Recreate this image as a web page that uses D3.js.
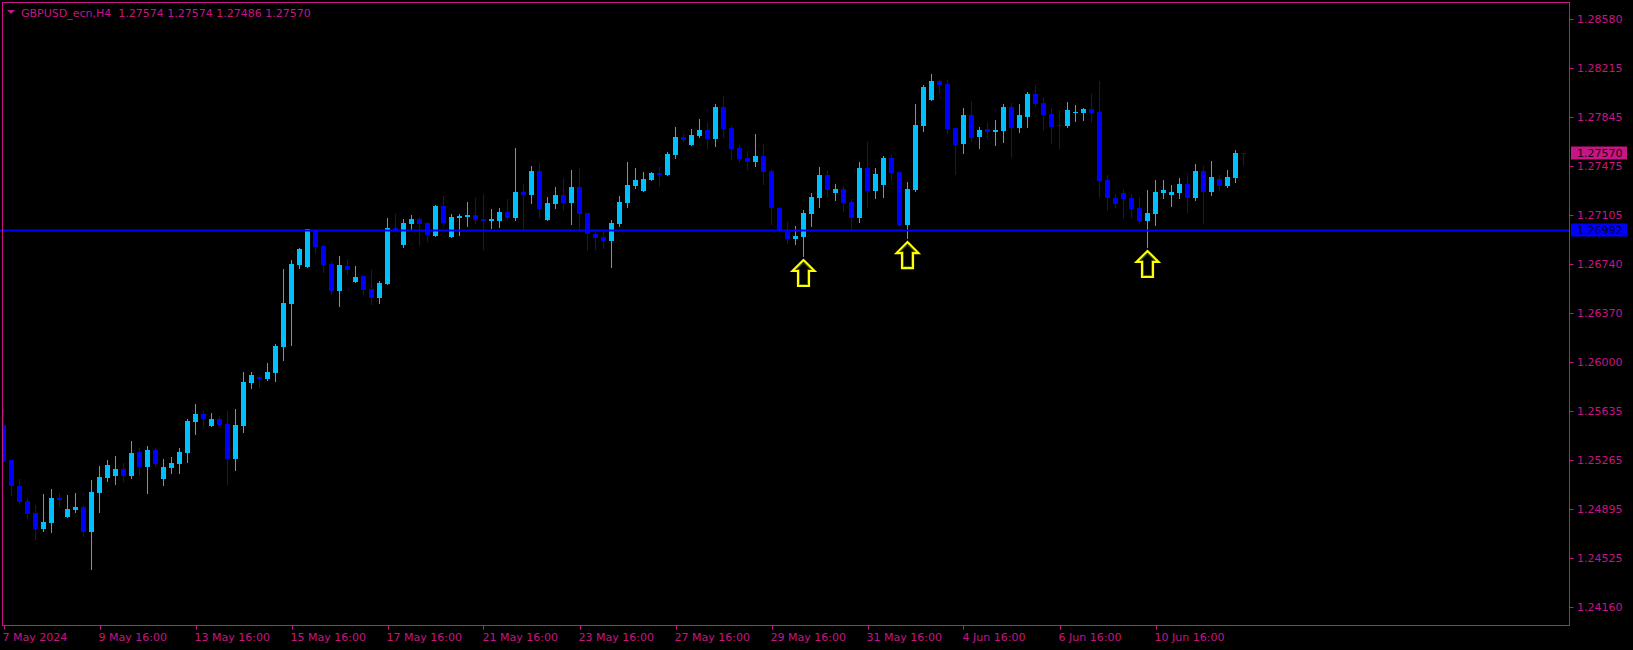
<!DOCTYPE html>
<html><head><meta charset="utf-8">
<script src="https://cdn.jsdelivr.net/npm/d3@7"></script>
<style>html,body{margin:0;padding:0;background:#000;overflow:hidden}svg{display:block}</style>
</head><body>
<svg id="c" width="1633" height="650"></svg>
<script>
const titleText = "GBPUSD_ecn,H4  1.27574 1.27574 1.27486 1.27570";
const openP = [1.25528,1.25265,1.25069,1.24956,1.24866,1.24746,1.24791,1.24979,1.24836,1.24889,1.24911,1.24723,1.25016,1.25129,1.25145,1.25198,1.25145,1.25325,1.25213,1.25340,
1.25122,1.25205,1.25235,1.25317,1.25551,1.25611,1.25521,1.25573,1.25536,1.25272,1.25521,1.25843,1.25889,1.25874,1.25919,1.26114,1.26438,1.26731,1.26716,1.26994,
1.26874,1.26739,1.26535,1.26724,1.26603,1.26648,1.26551,1.26483,1.26588,1.27009,1.26882,1.27040,1.27077,1.27047,1.26949,1.27175,1.26942,1.27085,1.27092,1.27107,
1.27077,1.27062,1.27062,1.27130,1.27085,1.27280,1.27257,1.27438,1.27070,1.27190,1.27257,1.27197,1.27318,1.27122,1.26964,1.26942,1.26912,1.27040,1.27197,1.27325,
1.27287,1.27370,1.27423,1.27408,1.27558,1.27694,1.27634,1.27701,1.27746,1.27679,1.27919,1.27761,1.27611,1.27536,1.27506,1.27551,1.27438,1.27160,1.26979,1.26927,
1.26942,1.27115,1.27235,1.27408,1.27272,1.27302,1.27205,1.27085,1.27461,1.27287,1.27333,1.27536,1.27431,1.27032,1.27295,1.27776,1.27972,1.28115,1.28092,1.27761,
1.27641,1.27859,1.27694,1.27754,1.27731,1.27739,1.27919,1.27761,1.27844,1.28017,1.27949,1.27867,1.27784,1.27776,1.27874,1.27874,1.27904,1.27882,1.27370,1.27235,
1.27272,1.27235,1.27160,1.27062,1.27115,1.27272,1.27257,1.27272,1.27340,1.27235,1.27438,1.27280,1.27378,1.27325,1.27385,1.27574];
const highP = [1.25648,1.25268,1.25122,1.24971,1.24926,1.25009,1.25046,1.25016,1.25001,1.25016,1.24926,1.25114,1.25220,1.25265,1.25295,1.25242,1.25407,1.25355,1.25370,1.25355,
1.25272,1.25287,1.25355,1.25573,1.25686,1.25633,1.25618,1.25596,1.25633,1.25648,1.25927,1.25927,1.25904,1.25994,1.26137,1.26701,1.26769,1.26859,1.27005,1.27002,
1.26882,1.26754,1.26799,1.26769,1.26724,1.26651,1.26694,1.26611,1.27085,1.27115,1.27077,1.27107,1.27092,1.27055,1.27183,1.27250,1.27115,1.27115,1.27205,1.27235,
1.27265,1.27152,1.27160,1.27227,1.27611,1.27340,1.27476,1.27498,1.27242,1.27318,1.27385,1.27446,1.27461,1.27125,1.26994,1.26979,1.27070,1.27250,1.27506,1.27461,
1.27431,1.27431,1.27468,1.27581,1.27769,1.27716,1.27754,1.27829,1.27807,1.27942,1.28002,1.27776,1.27634,1.27589,1.27716,1.27641,1.27453,1.27167,1.27055,1.27024,
1.27145,1.27272,1.27468,1.27438,1.27340,1.27318,1.27227,1.27506,1.27656,1.27461,1.27551,1.27558,1.27434,1.27355,1.27942,1.28085,1.28168,1.28122,1.28122,1.27764,
1.27912,1.27964,1.27769,1.27807,1.27822,1.27942,1.27949,1.27942,1.28032,1.28085,1.27994,1.27912,1.27889,1.27957,1.27934,1.27912,1.28017,1.28115,1.27408,1.27265,
1.27302,1.27265,1.27242,1.27295,1.27370,1.27370,1.27333,1.27385,1.27400,1.27491,1.27476,1.27513,1.27408,1.27446,1.27596,1.27574];
const lowP = [1.25250,1.25001,1.24941,1.24829,1.24670,1.24730,1.24723,1.24919,1.24833,1.24874,1.24693,1.24445,1.24874,1.25106,1.25084,1.25106,1.25129,1.25152,1.25016,1.25220,
1.25076,1.25167,1.25167,1.25250,1.25460,1.25521,1.25518,1.25521,1.25084,1.25190,1.25475,1.25806,1.25813,1.25866,1.25858,1.26017,1.26129,1.26709,1.26714,1.26821,
1.26679,1.26513,1.26423,1.26664,1.26600,1.26513,1.26438,1.26445,1.26585,1.26987,1.26867,1.27002,1.26882,1.26912,1.26946,1.27032,1.26939,1.26957,1.27024,1.27047,
1.26852,1.27009,1.27017,1.27077,1.27070,1.27002,1.27197,1.27092,1.27067,1.27160,1.27145,1.27040,1.26994,1.26844,1.26852,1.26859,1.26716,1.27024,1.27167,1.27310,
1.27284,1.27367,1.27325,1.27405,1.27536,1.27663,1.27631,1.27694,1.27611,1.27626,1.27694,1.27528,1.27506,1.27453,1.27476,1.27340,1.27040,1.26979,1.26897,1.26889,
1.26799,1.27024,1.27167,1.27250,1.27220,1.27137,1.27002,1.27055,1.27167,1.27235,1.27242,1.27370,1.27024,1.26934,1.27287,1.27739,1.27969,1.28025,1.27724,1.27416,
1.27574,1.27663,1.27611,1.27686,1.27634,1.27656,1.27543,1.27731,1.27769,1.27927,1.27746,1.27649,1.27611,1.27769,1.27814,1.27822,1.27807,1.27242,1.27145,1.27167,
1.27085,1.27092,1.27047,1.26867,1.27032,1.27235,1.27175,1.27235,1.27130,1.27220,1.27047,1.27257,1.27295,1.27318,1.27355,1.27486];
const closeP = [1.25257,1.25069,1.24949,1.24859,1.24746,1.24799,1.24979,1.24964,1.24896,1.24911,1.24723,1.25024,1.25137,1.25228,1.25198,1.25145,1.25317,1.25213,1.25340,1.25235,
1.25213,1.25242,1.25325,1.25558,1.25611,1.25573,1.25573,1.25528,1.25272,1.25528,1.25851,1.25904,1.25874,1.25927,1.26122,1.26445,1.26739,1.26852,1.27002,1.26867,
1.26731,1.26535,1.26731,1.26694,1.26641,1.26543,1.26483,1.26596,1.27009,1.26994,1.27047,1.27077,1.27040,1.26957,1.27175,1.27047,1.27092,1.27100,1.27107,1.27070,
1.27062,1.27077,1.27130,1.27085,1.27280,1.27257,1.27438,1.27152,1.27197,1.27257,1.27197,1.27318,1.27115,1.26964,1.26934,1.26912,1.27047,1.27205,1.27333,1.27370,
1.27378,1.27423,1.27408,1.27566,1.27694,1.27671,1.27709,1.27746,1.27679,1.27919,1.27754,1.27604,1.27528,1.27506,1.27551,1.27431,1.27160,1.26994,1.26927,1.26949,
1.27122,1.27242,1.27408,1.27295,1.27302,1.27197,1.27085,1.27461,1.27287,1.27416,1.27536,1.27423,1.27032,1.27302,1.27784,1.28070,1.28115,1.28085,1.27754,1.27634,
1.27859,1.27686,1.27746,1.27731,1.27746,1.27919,1.27761,1.27859,1.28017,1.27942,1.27859,1.27769,1.27776,1.27897,1.27882,1.27904,1.27874,1.27363,1.27235,1.27190,
1.27227,1.27152,1.27062,1.27122,1.27280,1.27295,1.27280,1.27340,1.27235,1.27438,1.27280,1.27393,1.27325,1.27393,1.27574,1.27570];
const priceTicks = [1.28580,1.28215,1.27845,1.27475,1.27105,1.26740,1.26370,1.26000,1.25635,1.25265,1.24895,1.24525,1.24160];
const timeTickIndex = [0,12,24,36,48,60,72,84,96,108,120,132,144];
const timeTickLabels = ["7 May 2024","9 May 16:00","13 May 16:00","15 May 16:00","17 May 16:00","21 May 16:00","23 May 16:00","27 May 16:00","29 May 16:00","31 May 16:00","4 Jun 16:00","6 Jun 16:00","10 Jun 16:00"];
const levelPrice = 1.26992;
const lastPrice = 1.27570;
const arrowIndex = [100,113,143];

const FG = "#C71585", BULL = "#00BFFF", BEAR = "#0000FF", FONT = "DejaVu Sans, sans-serif";
const N = openP.length;
const svg = d3.select("#c");
const L = 2.5, T = 2.5, R = 1569.5, B = 625.5;
const x = d3.scaleLinear().domain([0, N - 1]).range([3.5, 3.5 + 8 * (N - 1)]);
const y = d3.scaleLinear().domain([1.24160, 1.28580]).range([607, 19.1]);

svg.append("rect").attr("width",1633).attr("height",650).attr("fill","#000");
svg.append("clipPath").attr("id","pc").append("rect").attr("x",L+0.5).attr("y",T+0.5).attr("width",R-L-1).attr("height",B-T-1);
const plot = svg.append("g").attr("clip-path","url(#pc)").attr("shape-rendering","crispEdges");

const idx = d3.range(N);
const col = i => closeP[i] >= openP[i] ? BULL : BEAR;
plot.selectAll("rect.w").data(idx).join("rect").attr("class","w")
  .attr("x", i => x(i) - 0.5).attr("width", 1)
  .attr("y", i => Math.round(y(highP[i])))
  .attr("height", i => Math.max(1, Math.round(y(lowP[i])) - Math.round(y(highP[i])) + 1))
  .attr("fill", col);
plot.selectAll("rect.b").data(idx).join("rect").attr("class","b")
  .attr("x", i => x(i) - 2.5).attr("width", 5)
  .attr("y", i => Math.round(y(Math.max(openP[i], closeP[i]))))
  .attr("height", i => Math.max(1, Math.round(y(Math.min(openP[i], closeP[i]))) - Math.round(y(Math.max(openP[i], closeP[i])))))
  .attr("fill", col);

// horizontal level line
const ly = Math.round(y(levelPrice)) + 0.5;
svg.append("line").attr("x1",0).attr("x2",R).attr("y1",ly).attr("y2",ly)
  .attr("stroke",BEAR).attr("stroke-width",2);

// arrows
const arrowPath = "M0,0 L11,11 L5.5,11 L5.5,26 L-5.5,26 L-5.5,11 L-11,11 Z";
svg.selectAll("g.arr").data(arrowIndex).join("g").attr("class","arr")
  .attr("transform", i => `translate(${x(i)},${y(lowP[i]) + 4})`)
  .each(function(){
    const g = d3.select(this);
    g.append("path").attr("d",arrowPath).attr("fill","none").attr("stroke","#FFFF00").attr("stroke-width",2.2).attr("stroke-linejoin","miter");
    g.append("path").attr("d","M0,3 L7,9.5 L4,9.5 L4,24.5 L-4,24.5 L-4,9.5 L-7,9.5 Z").attr("fill","none").attr("stroke","#3a6b00").attr("stroke-width",0.8);
  });

// frame
svg.append("rect").attr("x",L).attr("y",T).attr("width",R-L).attr("height",B-T)
  .attr("fill","none").attr("stroke",FG).attr("stroke-width",1);

// right axis
const ra = svg.append("g");
ra.selectAll("line").data(priceTicks).join("line")
  .attr("x1",R).attr("x2",R+4).attr("y1",d=>Math.round(y(d))+0.5).attr("y2",d=>Math.round(y(d))+0.5)
  .attr("stroke",FG);
ra.selectAll("text").data(priceTicks).join("text")
  .attr("x",1577).attr("y",d=>y(d)+4).attr("fill",FG)
  .attr("font-family",FONT).attr("font-size",11).text(d=>d.toFixed(5));

// price label boxes
function priceBox(p, bg, fg){
  const cy = y(p);
  svg.append("rect").attr("x",1571).attr("y",Math.round(cy)-6.5).attr("width",56).attr("height",13).attr("fill",bg);
  svg.append("text").attr("x",1577).attr("y",cy+4).attr("fill",fg)
    .attr("font-family",FONT).attr("font-size",11).text(p.toFixed(5));
}
priceBox(lastPrice, FG, "#1a0010");
priceBox(levelPrice, BEAR, "#000030");

// bottom axis
const ba = svg.append("g");
ba.selectAll("line").data(timeTickIndex).join("line")
  .attr("x1",i=>Math.round(x(i))+0.5).attr("x2",i=>Math.round(x(i))+0.5).attr("y1",B).attr("y2",B+4)
  .attr("stroke",FG);
ba.selectAll("text").data(timeTickIndex).join("text")
  .attr("x",i=>x(i)-1).attr("y",641).attr("fill",FG)
  .attr("font-family",FONT).attr("font-size",11).text((d,k)=>timeTickLabels[k]);

// title
svg.append("path").attr("d","M7,10 L15,10 L11,14 Z").attr("fill",FG);
svg.append("text").attr("x",21).attr("y",16.5).attr("fill",FG)
  .attr("font-family",FONT).attr("font-size",11).attr("xml:space","preserve").style("white-space","pre").text(titleText);
</script>
</body></html>
